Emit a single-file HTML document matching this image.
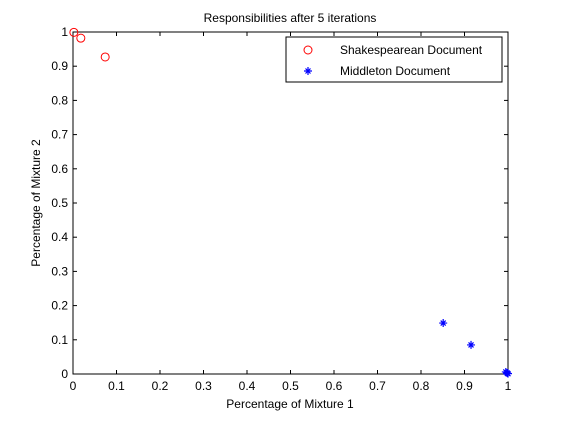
<!DOCTYPE html>
<html><head><meta charset="utf-8"><style>
body{margin:0;background:#fff;}
text{font-family:"Liberation Sans",sans-serif;font-size:12px;fill:#000;}
</style></head><body>
<svg id="c" width="561" height="420">
<rect x="0" y="0" width="561" height="420" fill="#fff"/>
<rect x="73" y="32" width="435" height="342" fill="#fff" stroke="#000" stroke-width="1"/>
<text x="290" y="22" text-anchor="middle">Responsibilities after 5 iterations</text>
<text x="290" y="408" text-anchor="middle">Percentage of Mixture 1</text>
<text transform="translate(40,203) rotate(-90)" text-anchor="middle">Percentage of Mixture 2</text>
<g id="ticks"></g>
<g id="marks"></g>
<g>
<rect x="286" y="37" width="216" height="45" fill="#fff" stroke="#000"/>
<circle cx="308" cy="50" r="4" fill="none" stroke="#f00"/>
<text x="340" y="54">Shakespearean Document</text>
<path d="M304,71H312M308,67V75M305.5,68.5L310.5,73.5M305.5,73.5L310.5,68.5" stroke="#00f" stroke-width="1.2"/>
<text x="340" y="75">Middleton Document</text>
</g>
</svg>
<script>
const tickVals=[0,0.1,0.2,0.3,0.4,0.5,0.6,0.7,0.8,0.9,1];
const tickLabels=["0","0.1","0.2","0.3","0.4","0.5","0.6","0.7","0.8","0.9","1"];
const shakX=[0.002,0.018,0.074];
const shakY=[0.999,0.982,0.927];
const midX=[0.851,0.915,0.995,0.998,1.0];
const midY=[0.149,0.085,0.006,0.003,0.001];
const NS="http://www.w3.org/2000/svg";
const sx=v=>73+v*435, sy=v=>374-v*342;
const T=document.getElementById('ticks'), M=document.getElementById('marks');
function mk(tag,attrs,parent){const e=document.createElementNS(NS,tag);for(const k in attrs)e.setAttribute(k,attrs[k]);parent.appendChild(e);return e;}
tickVals.forEach((v,i)=>{
  let x=sx(v),y=sy(v);
  let a=mk('line',{x1:x,x2:x,y1:374,y2:370,stroke:'#000'},T);
  
  
  let b=mk('line',{x1:x,x2:x,y1:32,y2:36,stroke:'#000'},T);
  
  
  let c=mk('line',{x1:73,x2:77,y1:y,y2:y,stroke:'#000'},T);
  
  
  let d=mk('line',{x1:504,x2:508,y1:y,y2:y,stroke:'#000'},T);
  
  
  let tx=mk('text',{x:x,y:390,'text-anchor':'middle'},T);tx.textContent=tickLabels[i];
  
  
  let ty=mk('text',{x:68,y:y+4,'text-anchor':'end'},T);ty.textContent=tickLabels[i];
  
  
});
shakX.forEach((v,i)=>{
  let c=mk('circle',{cx:sx(v),cy:sy(shakY[i]),r:4,fill:'none',stroke:'#f00'},M);
  
  
});
midX.forEach((v,i)=>{
  let x=sx(v),y=sy(midY[i]);
  let g=mk('path',{d:`M${x-4},${y}H${x+4}M${x},${y-4}V${y+4}M${x-2.5},${y-2.5}L${x+2.5},${y+2.5}M${x-2.5},${y+2.5}L${x+2.5},${y-2.5}`,stroke:'#00f','stroke-width':1.2},M);
  
  
});
</script>
</body></html>
